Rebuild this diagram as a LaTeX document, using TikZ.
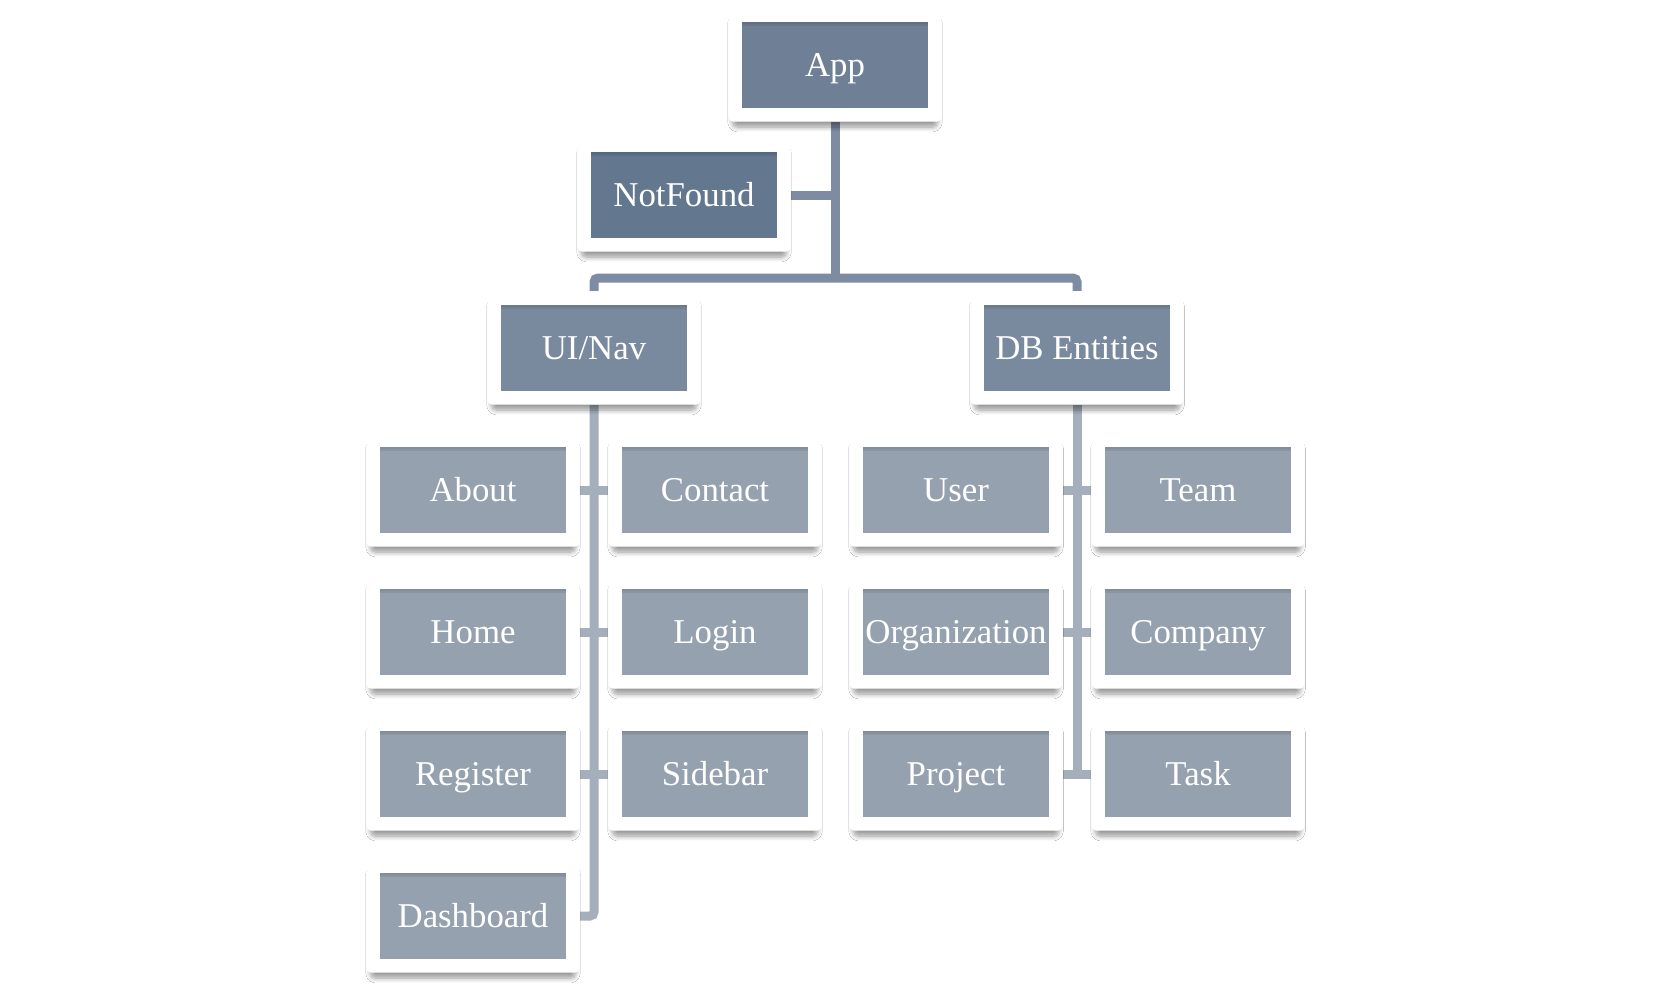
\documentclass[tikz,border=0pt]{standalone}
\usepackage{fontspec}
\setmainfont{Liberation Serif}
\usetikzlibrary{backgrounds,shadows.blur}
\definecolor{appfill}{HTML}{6F8096}
\definecolor{nffill}{HTML}{63778F}
\definecolor{groupfill}{HTML}{7A8A9E}
\definecolor{leaffill}{HTML}{95A1AF}
\definecolor{topline}{HTML}{7D8CA3}
\definecolor{lowline}{HTML}{A5AEBB}
\begin{document}
\begin{tikzpicture}[x=0.5pt,y=-0.5pt,
  box/.style={fill=white, rounded corners=2.5pt, inner sep=0pt,
    minimum width=106.7pt, minimum height=56.7pt, text=white,
    font=\fontsize{17.4pt}{20pt}\selectfont, text height=11.5pt, text depth=0pt,
    blur shadow={shadow xshift=0pt, shadow yshift=-4pt, shadow scale=0.96,
      shadow blur radius=2.5pt, shadow blur steps=8, shadow opacity=40},
    path picture={
      \fill[#1, sharp corners] ([shift={(6.85pt,-6.85pt)}]path picture bounding box.north west)
        rectangle ([shift={(-6.85pt,6.85pt)}]path picture bounding box.south east);
      \fill[black, opacity=.07, sharp corners] ([shift={(6.85pt,-6.85pt)}]path picture bounding box.north west)
        rectangle ([shift={(-6.85pt,-9pt)}]path picture bounding box.north east);
      \fill[black, opacity=.05, sharp corners] ([shift={(6.85pt,-6.85pt)}]path picture bounding box.north west)
        rectangle ([shift={(-6.85pt,-7.9pt)}]path picture bounding box.north east);
    }},
  root/.style={box=appfill},
  missing/.style={box=nffill},
  group/.style={box=groupfill},
  leaf/.style={box=leaffill}]
  \tikzstyle{conn}=[line width=4.5pt, draw=topline]
  \tikzstyle{lconn}=[line width=4.5pt, draw=lowline]

\useasboundingbox (0,0) rectangle (1670,995);

\node [root] (app) at (835,65) {App};
\node [missing] (notfound) at (684,195) {NotFound};
\coordinate (bar) at (835,278);

\node [group] (nav) at (594,348) {UI/Nav};
\node [group] (db) at (1077,348) {DB Entities};

% UI/Nav children
\node [leaf] (about) at (473,490) {About};
\node [leaf] (contact) at (715,490) {Contact};
\node [leaf] (home) at (473,632) {Home};
\node [leaf] (login) at (715,632) {Login};
\node [leaf] (register) at (473,774) {Register};
\node [leaf] (sidebar) at (715,774) {Sidebar};
\node [leaf] (dashboard) at (473,916) {Dashboard};

% DB children
\node [leaf] (user) at (956,490) {User};
\node [leaf] (team) at (1198,490) {Team};
\node [leaf] (org) at (956,632) {Organization};
\node [leaf] (company) at (1198,632) {Company};
\node [leaf] (project) at (956,774) {Project};
\node [leaf] (task) at (1198,774) {Task};

\begin{scope}[on background layer]
\fill[white] (0,0) rectangle (1670,995);

\draw[conn] (app) -- (bar);
\draw[conn] (notfound) -- (notfound -| app);
\draw[conn, rounded corners=2pt] (nav) |- (bar) -| (db);

\draw[lconn, rounded corners=2pt] (nav) |- (dashboard);
\draw[lconn] (about) -- (contact);
\draw[lconn] (home) -- (login);
\draw[lconn] (register) -- (sidebar);

\draw[lconn] (db) -- (db |- project);
\draw[lconn] (user) -- (team);
\draw[lconn] (org) -- (company);
\draw[lconn] (project) -- (task);
\end{scope}

\end{tikzpicture}
\end{document}
